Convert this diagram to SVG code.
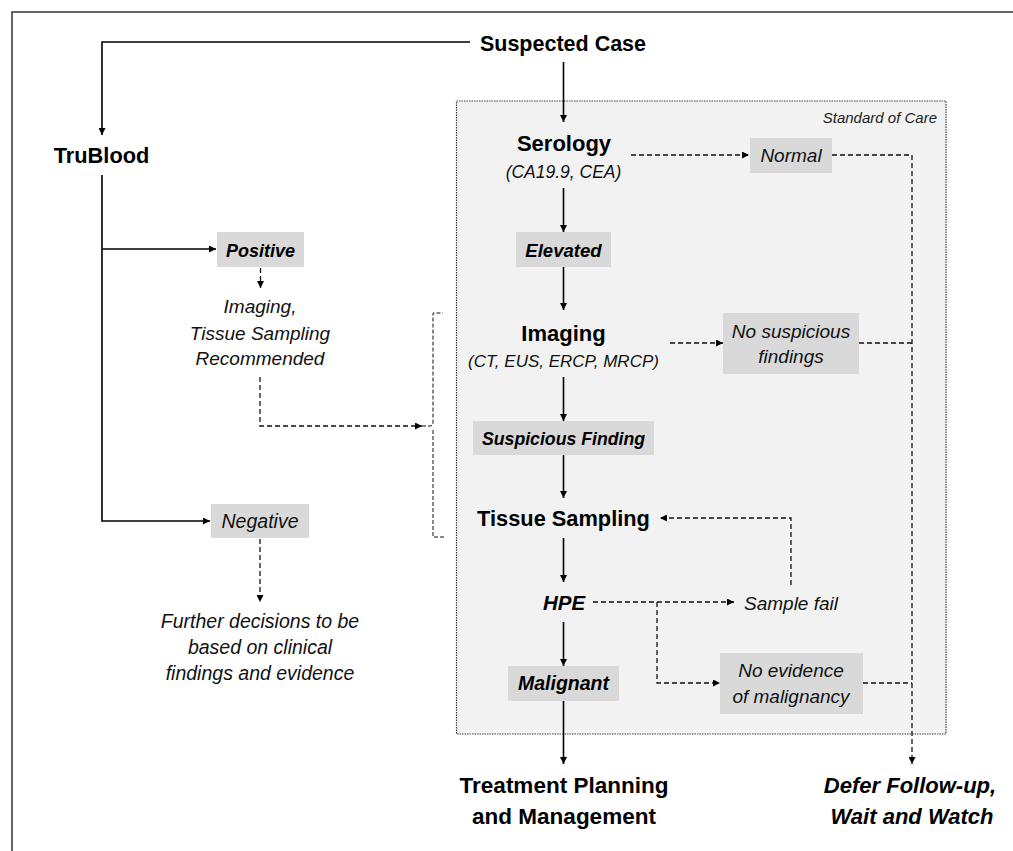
<svg xmlns="http://www.w3.org/2000/svg" width="1013" height="851" viewBox="0 0 1013 851">
<style>
text{font-family:"Liberation Sans",Arial,sans-serif;fill:#000;text-anchor:middle}
.h{font-weight:bold;font-size:22px}
.bi{font-weight:bold;font-style:italic;font-size:18px}
.it{font-style:italic;font-size:19px;fill:#111}
.sub{font-style:italic;font-size:17.5px;fill:#111}
.lbl{fill:#d9d9d9}
.solid{fill:none;stroke:#000;stroke-width:1.6}
.dash{fill:none;stroke:#111;stroke-width:1.3;stroke-dasharray:5 3}
</style>
<defs>
<marker id="ah" viewBox="0 0 10 10" refX="10" refY="5" markerWidth="8" markerHeight="7" markerUnits="userSpaceOnUse" orient="auto">
<path d="M0,0 L10,5 L0,10 z" fill="#000"/>
</marker>
</defs>
<rect x="0" y="0" width="1013" height="851" fill="#fff"/>
<rect id="frame" x="12" y="12" width="1020" height="860" fill="none" stroke="#333" stroke-width="1.5"/>
<g id="standard-of-care">
<rect x="456.5" y="101" width="489.5" height="633" fill="#f2f2f2" stroke="#444" stroke-width="1.2" stroke-dasharray="1.5 1"/>
<text x="937" y="123" style="font-style:italic;font-size:15px;text-anchor:end;fill:#222">Standard of Care</text>
</g>
<g id="connectors">
<path class="solid" d="M470,42 H102 V135" marker-end="url(#ah)"/>
<path class="solid" d="M563.5,62 V122" marker-end="url(#ah)"/>
<path class="solid" d="M102,175 V521 H210" marker-end="url(#ah)"/>
<path class="solid" d="M102,249 H216" marker-end="url(#ah)"/>
<path class="dash" d="M260.5,268 V288" marker-end="url(#ah)"/>
<path class="dash" d="M260,377 V426 H422" marker-end="url(#ah)"/>
<path class="dash" d="M422,426 H430 Q433,426 433,422 V313 H443 M433,430 V537 H446" style="stroke-width:1;stroke-dasharray:4 2"/>
<path class="dash" d="M260,539 V602" marker-end="url(#ah)"/>
<path class="solid" d="M563.5,188 V232" marker-end="url(#ah)"/>
<path class="solid" d="M563.5,267 V310" marker-end="url(#ah)"/>
<path class="solid" d="M563.5,377 V421" marker-end="url(#ah)"/>
<path class="solid" d="M563.5,455 V498" marker-end="url(#ah)"/>
<path class="solid" d="M563.5,538 V582" marker-end="url(#ah)"/>
<path class="solid" d="M563.5,622 V666" marker-end="url(#ah)"/>
<path class="solid" d="M563.5,701 V764" marker-end="url(#ah)"/>
<path class="dash" d="M631,155 H749" marker-end="url(#ah)"/>
<path class="dash" d="M832,155 H912 V764" marker-end="url(#ah)"/>
<path class="dash" d="M670,343 H723" marker-end="url(#ah)"/>
<path class="dash" d="M859,343 H912"/>
<path class="dash" d="M863,683 H912"/>
<path class="dash" d="M593,602 H734" marker-end="url(#ah)"/>
<path class="dash" d="M657,602 V683 H720" marker-end="url(#ah)"/>
<path class="dash" d="M791,585 V518 H660" marker-end="url(#ah)"/>
</g>
<g id="suspected-case"><text class="h" x="563" y="51" style="font-size:21.5px">Suspected Case</text></g>
<g id="trublood"><text class="h" x="101.5" y="163" style="font-size:21.8px">TruBlood</text></g>
<g id="positive"><rect class="lbl" x="217" y="232" width="87" height="35"/><text class="bi" x="260.5" y="257">Positive</text></g>
<g id="imaging-recommended">
<text class="it" x="260" y="313">Imaging,</text>
<text class="it" x="260" y="340">Tissue Sampling</text>
<text class="it" x="260" y="365">Recommended</text>
</g>
<g id="negative"><rect class="lbl" x="211" y="504" width="98" height="34"/><text class="it" x="260" y="528" style="font-size:19.5px">Negative</text></g>
<g id="further-decisions">
<text class="it" x="260" y="628" style="font-size:19.5px">Further decisions to be</text>
<text class="it" x="260" y="654" style="font-size:19.5px">based on clinical</text>
<text class="it" x="260" y="680" style="font-size:19.5px">findings and evidence</text>
</g>
<g id="serology">
<text class="h" x="564" y="151">Serology</text>
<text class="sub" x="563.5" y="178">(CA19.9, CEA)</text>
</g>
<g id="normal"><rect class="lbl" x="750" y="138" width="82" height="35"/><text class="it" x="791" y="162">Normal</text></g>
<g id="elevated"><rect class="lbl" x="516" y="232" width="95" height="35"/><text class="bi" x="563.5" y="257" style="font-size:18.6px">Elevated</text></g>
<g id="imaging">
<text class="h" x="563.5" y="341">Imaging</text>
<text class="sub" x="563.5" y="367" style="font-size:17px">(CT, EUS, ERCP, MRCP)</text>
</g>
<g id="no-suspicious"><rect class="lbl" x="723" y="313" width="136" height="61"/><text class="it" x="791" y="338">No suspicious</text><text class="it" x="791" y="363">findings</text></g>
<g id="suspicious-finding"><rect class="lbl" x="473" y="421" width="181" height="34"/><text class="bi" x="563.5" y="445" style="font-size:17.7px">Suspicious Finding</text></g>
<g id="tissue-sampling"><text class="h" x="563.5" y="526" style="font-size:21.8px">Tissue Sampling</text></g>
<g id="hpe"><text class="bi" x="564" y="610" style="font-size:20.5px">HPE</text></g>
<g id="sample-fail"><text class="it" x="791" y="610">Sample fail</text></g>
<g id="no-evidence"><rect class="lbl" x="720" y="653" width="143" height="61"/><text class="it" x="791" y="677">No evidence</text><text class="it" x="791" y="703">of malignancy</text></g>
<g id="malignant"><rect class="lbl" x="508" y="666" width="111" height="35"/><text class="bi" x="563.5" y="690" style="font-size:19.5px">Malignant</text></g>
<g id="treatment"><text class="h" x="564" y="793" style="font-size:22.5px">Treatment Planning</text><text class="h" x="564" y="824" style="font-size:22.5px">and Management</text></g>
<g id="defer"><text class="h" x="910" y="793" style="font-style:italic">Defer Follow-up,</text><text class="h" x="912" y="824" style="font-style:italic">Wait and Watch</text></g>
</svg>
